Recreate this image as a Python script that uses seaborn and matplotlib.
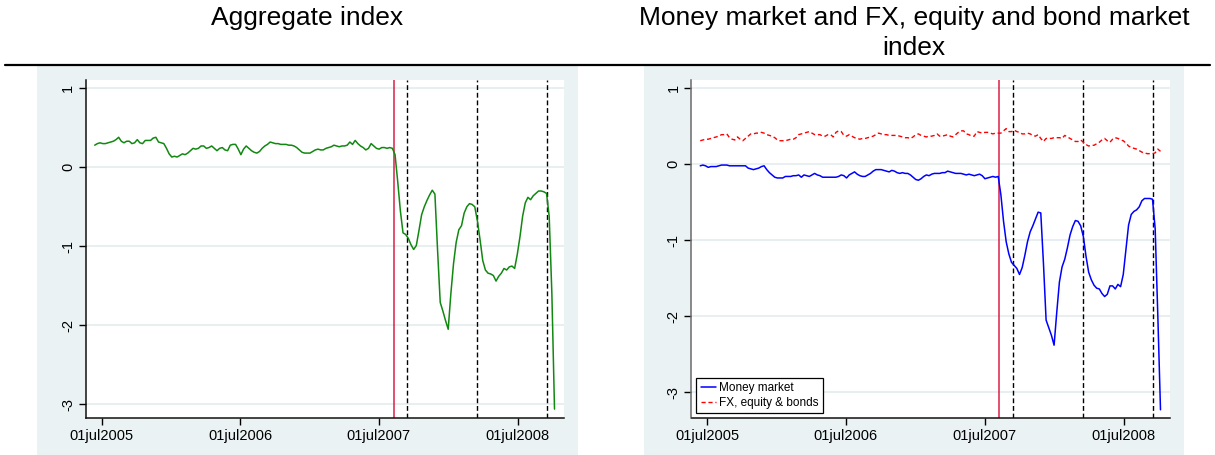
import numpy as np
import pandas as pd
import matplotlib
matplotlib.use("Agg")
import matplotlib.pyplot as plt
import matplotlib.dates as mdates
from matplotlib.patches import Rectangle
from matplotlib.lines import Line2D
import seaborn as sns

# ---------------- data (weekly) ----------------
start_date = "2005-06-13"
n_weeks = 174

aggregate = [
    0.28, 0.30, 0.31, 0.30, 0.30, 0.31, 0.32, 0.33, 0.35, 0.38,
    0.33, 0.31, 0.33, 0.33, 0.30, 0.31, 0.35, 0.31, 0.30, 0.34,
    0.34, 0.34, 0.37, 0.38, 0.32, 0.31, 0.30, 0.24, 0.17, 0.13,
    0.14, 0.13, 0.15, 0.17, 0.16, 0.18, 0.21, 0.24, 0.23, 0.24,
    0.27, 0.27, 0.24, 0.25, 0.27, 0.24, 0.21, 0.24, 0.25, 0.22,
    0.21, 0.28, 0.29, 0.29, 0.23, 0.16, 0.23, 0.27, 0.24, 0.21,
    0.19, 0.18, 0.20, 0.24, 0.27, 0.29, 0.32, 0.31, 0.30, 0.30,
    0.29, 0.29, 0.29, 0.28, 0.28, 0.27, 0.25, 0.22, 0.19, 0.18,
    0.18, 0.18, 0.20, 0.22, 0.23, 0.22, 0.22, 0.24, 0.25, 0.26,
    0.28, 0.27, 0.26, 0.27, 0.27, 0.28, 0.32, 0.29, 0.34, 0.30,
    0.27, 0.25, 0.22, 0.24, 0.30, 0.27, 0.24, 0.23, 0.25, 0.25,
    0.24, 0.25, 0.24, 0.16, -0.18, -0.55, -0.83, -0.85, -0.90, -0.98,
    -1.04, -0.99, -0.80, -0.60, -0.50, -0.42, -0.35, -0.29, -0.34, -1.05,
    -1.71, -1.82, -1.94, -2.05, -1.60, -1.22, -0.95, -0.79, -0.74, -0.58,
    -0.50, -0.46, -0.47, -0.50, -0.68, -0.92, -1.18, -1.30, -1.34, -1.35,
    -1.37, -1.44, -1.38, -1.34, -1.28, -1.30, -1.26, -1.25, -1.28, -1.10,
    -0.88, -0.62, -0.45, -0.38, -0.41, -0.36, -0.33, -0.30, -0.30, -0.31,
    -0.33, -0.62, -1.59, -3.06,
]

money_market = [
    -0.02, -0.01, -0.02, -0.04, -0.03, -0.03, -0.03, -0.02, -0.01, -0.01,
    -0.01, -0.02, -0.02, -0.02, -0.02, -0.02, -0.02, -0.02, -0.05, -0.06,
    -0.07, -0.06, -0.05, -0.03, -0.02, -0.07, -0.11, -0.14, -0.17, -0.18,
    -0.18, -0.18, -0.16, -0.16, -0.16, -0.15, -0.15, -0.14, -0.17, -0.14,
    -0.15, -0.16, -0.14, -0.12, -0.14, -0.15, -0.17, -0.17, -0.17, -0.17,
    -0.17, -0.17, -0.16, -0.14, -0.15, -0.18, -0.14, -0.12, -0.10, -0.13,
    -0.15, -0.16, -0.16, -0.14, -0.12, -0.09, -0.07, -0.07, -0.07, -0.08,
    -0.09, -0.10, -0.08, -0.09, -0.11, -0.12, -0.11, -0.12, -0.12, -0.14,
    -0.17, -0.20, -0.21, -0.19, -0.16, -0.14, -0.15, -0.13, -0.12, -0.12,
    -0.12, -0.11, -0.11, -0.09, -0.10, -0.11, -0.12, -0.12, -0.12, -0.13,
    -0.14, -0.13, -0.14, -0.15, -0.14, -0.13, -0.15, -0.19, -0.18, -0.17,
    -0.16, -0.17, -0.16, -0.40, -0.75, -1.02, -1.18, -1.29, -1.33, -1.37,
    -1.45, -1.36, -1.20, -1.02, -0.89, -0.81, -0.72, -0.63, -0.64, -1.30,
    -2.05, -2.15, -2.25, -2.38, -1.95, -1.55, -1.35, -1.25, -1.10, -0.93,
    -0.82, -0.74, -0.75, -0.81, -0.95, -1.21, -1.42, -1.52, -1.59, -1.63,
    -1.64, -1.70, -1.74, -1.71, -1.60, -1.60, -1.64, -1.58, -1.61, -1.45,
    -1.12, -0.80, -0.66, -0.62, -0.60, -0.56, -0.48, -0.45, -0.45, -0.45,
    -0.46, -0.85, -2.00, -3.23,
]

fx_equity_bonds = [
    0.31, 0.32, 0.33, 0.33, 0.34, 0.35, 0.36, 0.37, 0.39, 0.39,
    0.40, 0.35, 0.33, 0.32, 0.36, 0.33, 0.31, 0.34, 0.37, 0.40,
    0.40, 0.41, 0.41, 0.42, 0.41, 0.39, 0.38, 0.37, 0.35, 0.32,
    0.31, 0.31, 0.31, 0.32, 0.33, 0.33, 0.35, 0.39, 0.40, 0.41,
    0.42, 0.43, 0.41, 0.39, 0.39, 0.39, 0.37, 0.37, 0.39, 0.39,
    0.36, 0.42, 0.44, 0.43, 0.38, 0.37, 0.39, 0.37, 0.35, 0.34,
    0.33, 0.34, 0.34, 0.35, 0.36, 0.37, 0.39, 0.41, 0.40, 0.39,
    0.39, 0.38, 0.38, 0.38, 0.38, 0.37, 0.36, 0.35, 0.35, 0.34,
    0.36, 0.39, 0.40, 0.38, 0.37, 0.36, 0.37, 0.37, 0.38, 0.40,
    0.37, 0.37, 0.38, 0.39, 0.37, 0.36, 0.39, 0.42, 0.44, 0.44,
    0.40, 0.39, 0.37, 0.37, 0.43, 0.42, 0.41, 0.42, 0.42, 0.41,
    0.40, 0.41, 0.41, 0.41, 0.44, 0.47, 0.43, 0.43, 0.45, 0.43,
    0.42, 0.40, 0.40, 0.41, 0.40, 0.38, 0.37, 0.39, 0.34, 0.30,
    0.34, 0.34, 0.34, 0.35, 0.35, 0.35, 0.34, 0.38, 0.36, 0.34,
    0.32, 0.30, 0.30, 0.32, 0.29, 0.26, 0.24, 0.25, 0.25, 0.27,
    0.29, 0.32, 0.34, 0.31, 0.29, 0.33, 0.35, 0.34, 0.32, 0.31,
    0.28, 0.24, 0.22, 0.21, 0.20, 0.18, 0.16, 0.15, 0.14, 0.14,
    0.14, 0.15, 0.20, 0.17,
]

tick_dates = ["2005-07-01", "2006-07-01", "2007-07-01", "2008-07-01"]
tick_labels = ["01jul2005", "01jul2006", "01jul2007", "01jul2008"]
y_ticks = [1, 0, -1, -2, -3]
red_event = "2007-08-09"
black_events = ["2007-09-14", "2008-03-17", "2008-09-15"]

title_left = "Aggregate index"
title_right = "Money market and FX, equity and bond market\nindex"
legend_labels = ["Money market", "FX, equity & bonds"]

dates = pd.date_range(start_date, periods=n_weeks, freq="7D")
df = pd.DataFrame({
    "date": dates,
    "aggregate": aggregate,
    "money_market": money_market,
    "fx_equity_bonds": fx_equity_bonds,
})

# ---------------- styling ----------------
sns.set_theme(style="white")
plt.rcParams["font.family"] = ["Liberation Sans", "DejaVu Sans"]
plt.rcParams["text.color"] = "black"

W, H = 1215, 455
fig = plt.figure(figsize=(W / 100, H / 100), dpi=100, facecolor="white")

panel_col = "#eaf2f3"
grid_col = "#e6eeef"

def fx(px):
    return px / W

def fy(py):
    return 1 - py / H

# panel backgrounds (graph regions)
for x0, x1 in [(37, 578), (644, 1184)]:
    fig.patches.append(Rectangle((fx(x0), 0), fx(x1 - x0), fy(66),
                                 transform=fig.transFigure, facecolor=panel_col,
                                 edgecolor="none", zorder=-5))

# black rule under the titles
fig.add_artist(Line2D([fx(5), fx(1210)], [fy(65), fy(65)], color="black",
                      lw=1.6, transform=fig.transFigure))

fig.text(fx(307.5), fy(18), title_left, ha="center", va="center", fontsize=19,
         color="black")
fig.text(fx(914), fy(33), title_right, ha="center", va="center", fontsize=19,
         linespacing=1.3, color="black")

ax1 = fig.add_axes([fx(86), fy(418), fx(564 - 86), (418 - 80) / H])
ax2 = fig.add_axes([fx(691.5), fy(418), fx(1170 - 691.5), (418 - 80) / H])
ax1.set_zorder(2)
ax2.set_zorder(2)

sns.lineplot(data=df, x="date", y="aggregate", ax=ax1, color="#118811", lw=1.1)
sns.lineplot(data=df, x="date", y="money_market", ax=ax2, color="#0000ff", lw=1.1,
             label=legend_labels[0])
sns.lineplot(data=df, x="date", y="fx_equity_bonds", ax=ax2, color="#ff0000", lw=1.0,
             linestyle=(0, (3, 2)), label=legend_labels[1])

xlim = (mdates.date2num(pd.Timestamp("2005-05-21")), mdates.date2num(pd.Timestamp("2008-10-31")))

for ax, ylim, left_col in [(ax1, (-3.173, 1.105), "#111111"),
                           (ax2, (-3.338, 1.109), "#6a6a6a")]:
    ax.set_facecolor("white")
    ax.set_xlim(*xlim)
    ax.set_ylim(*ylim)
    ax.axvline(mdates.date2num(pd.Timestamp(red_event)), color="#d8204a", lw=1.1, zorder=1)
    for d in black_events:
        ax.axvline(mdates.date2num(pd.Timestamp(d)), color="black", lw=1.0,
                   linestyle=(0, (3.5, 2)), zorder=1)
    ax.set_xticks([mdates.date2num(pd.Timestamp(d)) for d in tick_dates])
    ax.set_xticklabels(tick_labels)
    ax.set_yticks(y_ticks)
    ax.set_yticklabels([str(v) for v in y_ticks])
    ax.yaxis.grid(True, color=grid_col, lw=1.3)
    ax.xaxis.grid(False)
    ax.set_axisbelow(True)
    ax.set_xlabel("")
    ax.set_ylabel("")
    ax.tick_params(axis="both", bottom=True, left=True, direction="out", length=5,
                   width=1.0, color="black", labelsize=10.5, pad=3,
                   labelcolor="black")
    for lab in ax.get_yticklabels():
        lab.set_rotation(90)
        lab.set_va("center")
    sns.despine(ax=ax)
    ax.spines["bottom"].set_color("#111111")
    ax.spines["left"].set_color(left_col)
    for s in ["left", "bottom"]:
        ax.spines[s].set_linewidth(1.1)

leg = ax2.legend(loc="lower left", bbox_to_anchor=(0.0104, 0.014), borderaxespad=0,
                 fontsize=8.5, frameon=True, fancybox=False, framealpha=1,
                 edgecolor="black", handlelength=1.3, handletextpad=0.3,
                 borderpad=0.35, labelspacing=0.25)
leg.get_frame().set_linewidth(0.9)
for t in leg.get_texts():
    t.set_color("black")

fig.savefig("out.png", dpi=100, facecolor="white")
